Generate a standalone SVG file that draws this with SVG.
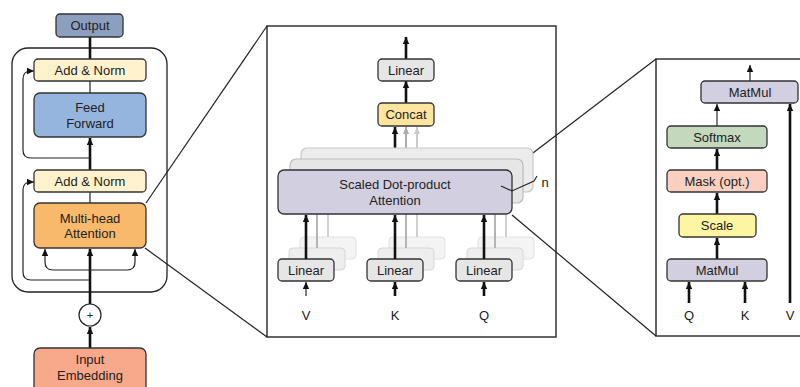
<svg xmlns="http://www.w3.org/2000/svg" width="800" height="387" viewBox="0 0 800 387">
<style>
text{font-family:"Liberation Sans",Arial,sans-serif;font-size:13px;fill:#222;text-anchor:middle}
.box{stroke:#333;stroke-width:1.3}
.thin{fill:none;stroke:#222;stroke-width:1.2}
.thick{fill:none;stroke:#111;stroke-width:2.6}
.panel{fill:#fff;stroke:#333;stroke-width:1.5}
.zoom{fill:none;stroke:#222;stroke-width:1.2}
</style>
<defs>
<marker id="ah" markerUnits="userSpaceOnUse" markerWidth="8" markerHeight="8" refX="7" refY="4" orient="auto-start-reverse"><path d="M0,0.8 L7,4 L0,7.2 Z" fill="#111"/></marker>
<marker id="ahg" markerUnits="userSpaceOnUse" markerWidth="8" markerHeight="8" refX="7" refY="4" orient="auto"><path d="M0,0.8 L7,4 L0,7.2 Z" fill="#aaa"/></marker>
<marker id="ahl" markerUnits="userSpaceOnUse" markerWidth="8" markerHeight="8" refX="7" refY="4" orient="auto"><path d="M0,0.8 L7,4 L0,7.2 Z" fill="#ccc"/></marker>
</defs>

<!-- panels -->
<rect class="panel" x="267" y="26" width="289" height="311"/>
<rect class="panel" x="656" y="59" width="160" height="277"/>
<rect x="12" y="48" width="155" height="244" rx="16" fill="none" stroke="#222" stroke-width="1.3"/>

<g id="connectors">
<!-- zoom lines -->
<line class="zoom" x1="146" y1="203" x2="267" y2="26"/>
<line class="zoom" x1="145" y1="248" x2="267" y2="337"/>
<line class="zoom" x1="512" y1="169" x2="656" y2="59"/>
<line class="zoom" x1="512" y1="215" x2="656" y2="336"/>
<!-- left encoder -->
<line class="thick" x1="90" y1="37" x2="90" y2="59"/>
<line class="thin" x1="90" y1="81" x2="90" y2="93"/>
<line class="thick" x1="90" y1="170" x2="90" y2="138" marker-end="url(#ah)"/>
<line class="thin" x1="90" y1="192" x2="90" y2="203"/>
<path class="thin" d="M90,158 L31,158 Q23,158 23,150 L23,79 Q23,71 31,71 L34,71" marker-end="url(#ah)"/>
<path class="thin" d="M90,280 L31,280 Q23,280 23,272 L23,190 Q23,182 31,182 L34,182" marker-end="url(#ah)"/>
<line class="thick" x1="90" y1="304" x2="90" y2="249" marker-end="url(#ah)"/>
<path class="thin" d="M45,249 L45,262 Q45,270 53,270 L127,270 Q135,270 135,262 L135,249" marker-start="url(#ah)" marker-end="url(#ah)"/>
<line class="thick" x1="90" y1="348" x2="90" y2="327" marker-end="url(#ah)"/>
<!-- middle panel -->
<line class="thick" x1="406" y1="59" x2="406" y2="37" marker-end="url(#ah)"/>
<line class="thick" x1="406" y1="103" x2="406" y2="81" marker-end="url(#ah)"/>
</g>

<g id="concat-inputs">
<line x1="417" y1="148" x2="417" y2="127" stroke="#ccc" stroke-width="2" marker-end="url(#ahl)"/>
<line x1="406" y1="148" x2="406" y2="127" stroke="#aaa" stroke-width="2" marker-end="url(#ahg)"/>
<line class="thick" x1="395" y1="150" x2="395" y2="127" marker-end="url(#ah)"/>
</g>

<!-- stacked SDPA -->
<g id="sdpa-back">
<rect x="301" y="148" width="232" height="44" rx="6" fill="#ececec" stroke="#c8c8c8" stroke-width="1.2"/>
<rect x="290" y="159" width="233" height="44" rx="6" fill="#e6e6e6" stroke="#bbb" stroke-width="1.2"/>
</g>

<!-- back linears and gray lines -->
<g id="linear-back">
<rect x="300" y="237" width="56" height="22" rx="4" fill="#f4f4f4" stroke="#e0e0e0"/>
<rect x="289" y="248" width="56" height="22" rx="4" fill="#eeeeee" stroke="#d6d6d6"/>
<rect x="389" y="237" width="56" height="22" rx="4" fill="#f4f4f4" stroke="#e0e0e0"/>
<rect x="378" y="248" width="56" height="22" rx="4" fill="#eeeeee" stroke="#d6d6d6"/>
<rect x="478" y="237" width="56" height="22" rx="4" fill="#f4f4f4" stroke="#e0e0e0"/>
<rect x="467" y="248" width="56" height="22" rx="4" fill="#eeeeee" stroke="#d6d6d6"/>
<g stroke-width="2">
<line x1="328" y1="205" x2="328" y2="237" stroke="#d0d0d0"/>
<line x1="317" y1="205" x2="317" y2="248" stroke="#b5b5b5"/>
<line x1="417" y1="205" x2="417" y2="237" stroke="#d0d0d0"/>
<line x1="406" y1="205" x2="406" y2="248" stroke="#b5b5b5"/>
<line x1="506" y1="205" x2="506" y2="237" stroke="#d0d0d0"/>
<line x1="495" y1="205" x2="495" y2="248" stroke="#b5b5b5"/>
</g>
</g>

<g id="sdpa">
<rect class="box" x="278" y="170" width="234" height="44" rx="6" fill="#d1cfe0"/>
<text x="395" y="189">Scaled Dot-product</text>
<text x="395" y="205">Attention</text>
</g>
<path d="M501,186 L512,191 L534,181 L537,176" fill="none" stroke="#222" stroke-width="1.1"/>
<text x="545" y="187">n</text>

<g id="linear-out">
<rect class="box" x="378" y="59" width="56" height="22" rx="4" fill="#e6e6e6"/>
<text x="406" y="75">Linear</text>
</g>
<g id="concat">
<rect class="box" x="378" y="103" width="56" height="23" rx="4" fill="#fde49f"/>
<text x="406" y="119">Concat</text>
</g>

<g id="linear-v">
<rect class="box" x="278" y="259" width="56" height="22" rx="4" fill="#e6e6e6"/>
<text x="306" y="275">Linear</text>
</g>
<g id="linear-k">
<rect class="box" x="367" y="259" width="56" height="22" rx="4" fill="#e6e6e6"/>
<text x="395" y="275">Linear</text>
</g>
<g id="linear-q">
<rect class="box" x="456" y="259" width="56" height="22" rx="4" fill="#e6e6e6"/>
<text x="484" y="275">Linear</text>
</g>

<g id="connectors-mid">
<line class="thick" x1="306" y1="259" x2="306" y2="215" marker-end="url(#ah)"/>
<line class="thick" x1="395" y1="259" x2="395" y2="215" marker-end="url(#ah)"/>
<line class="thick" x1="484" y1="259" x2="484" y2="215" marker-end="url(#ah)"/>
<line class="thin" x1="306" y1="296" x2="306" y2="282" marker-end="url(#ah)"/>
<line class="thick" x1="395" y1="296" x2="395" y2="282" marker-end="url(#ah)"/>
<line class="thick" x1="484" y1="296" x2="484" y2="282" marker-end="url(#ah)"/>
</g>
<text x="306" y="320">V</text>
<text x="395" y="320">K</text>
<text x="484" y="320">Q</text>

<!-- left encoder nodes -->
<g id="output">
<rect class="box" x="56" y="14" width="67" height="23" rx="4" fill="#8c9fbe"/>
<text x="90" y="30">Output</text>
</g>
<g id="addnorm2">
<rect class="box" x="34" y="59" width="112" height="22" rx="4" fill="#fff2cc"/>
<text x="90" y="75">Add &amp; Norm</text>
</g>
<g id="feedforward">
<rect class="box" x="34" y="93" width="112" height="44" rx="6" fill="#95b5de"/>
<text x="90" y="112">Feed</text>
<text x="90" y="128">Forward</text>
</g>
<g id="addnorm1">
<rect class="box" x="34" y="170" width="112" height="22" rx="4" fill="#fff2cc"/>
<text x="90" y="186">Add &amp; Norm</text>
</g>
<g id="multihead">
<rect class="box" x="34" y="203" width="112" height="45" rx="6" fill="#f9b96b"/>
<text x="90" y="223">Multi-head</text>
<text x="90" y="238">Attention</text>
</g>
<g id="plus">
<circle cx="90" cy="315" r="11" fill="#fff" stroke="#222" stroke-width="1.2"/>
<text x="90" y="319" style="font-size:11px">+</text>
</g>
<g id="embedding">
<rect class="box" x="34" y="348" width="112" height="50" rx="6" fill="#f8a98b"/>
<text x="90" y="364">Input</text>
<text x="90" y="380">Embedding</text>
</g>

<!-- right panel -->
<g id="connectors-right">
<line class="thin" x1="750" y1="81" x2="750" y2="65" marker-end="url(#ah)"/>
<line x1="717" y1="126" x2="717" y2="104" stroke="#555" stroke-width="1.5" marker-end="url(#ah)"/>
<line class="thick" x1="717" y1="170" x2="717" y2="149" marker-end="url(#ah)"/>
<line class="thick" x1="717" y1="214" x2="717" y2="193" marker-end="url(#ah)"/>
<line class="thick" x1="717" y1="259" x2="717" y2="238" marker-end="url(#ah)"/>
<line class="thick" x1="689" y1="303" x2="689" y2="282" marker-end="url(#ah)"/>
<line class="thick" x1="745" y1="303" x2="745" y2="282" marker-end="url(#ah)"/>
<line class="thick" x1="790" y1="303" x2="790" y2="104" marker-end="url(#ah)"/>
</g>
<g id="matmul-top">
<rect class="box" x="701" y="81" width="97" height="22" rx="4" fill="#d1cfe0"/>
<text x="750" y="97">MatMul</text>
</g>
<g id="softmax">
<rect class="box" x="667" y="126" width="100" height="22" rx="4" fill="#c3d8bd"/>
<text x="717" y="142">Softmax</text>
</g>
<g id="mask">
<rect class="box" x="667" y="170" width="100" height="22" rx="4" fill="#fbd0c0"/>
<text x="717" y="186">Mask (opt.)</text>
</g>
<g id="scale">
<rect class="box" x="679" y="214" width="77" height="23" rx="4" fill="#fef5a3"/>
<text x="717" y="230">Scale</text>
</g>
<g id="matmul-bottom">
<rect class="box" x="667" y="259" width="100" height="22" rx="4" fill="#d1cfe0"/>
<text x="717" y="275">MatMul</text>
</g>
<text x="689" y="320">Q</text>
<text x="745" y="320">K</text>
<text x="790" y="320">V</text>
</svg>
